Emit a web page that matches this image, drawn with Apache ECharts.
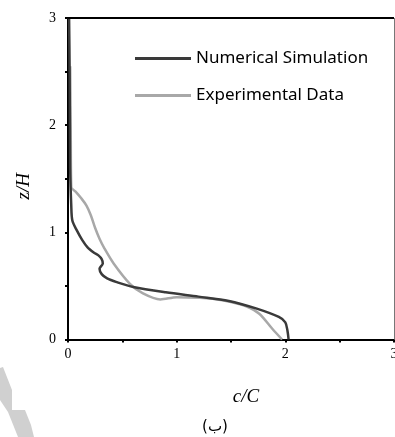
<!DOCTYPE html>
<html>
<head>
<meta charset="utf-8">
<script src="https://cdn.jsdelivr.net/npm/echarts@6/dist/echarts.min.js"></script>
<style>
html,body{margin:0;padding:0;background:#fff;}
#chart{width:395px;height:437px;}
</style>
</head>
<body>
<div id="chart"></div>
<script>
var seriesNames = ['Numerical Simulation', 'Experimental Data'];
var numC = [0.01, 0.015, 0.02, 0.03, 0.04, 0.08, 0.13, 0.18, 0.24, 0.28, 0.31, 0.32, 0.29, 0.31, 0.36, 0.45, 0.6, 0.9, 1.2, 1.48, 1.73, 1.94, 2.0, 2.02, 2.03];
var numZ = [3.0, 2.5, 1.6, 1.25, 1.11, 1.02, 0.93, 0.86, 0.81, 0.785, 0.75, 0.71, 0.66, 0.61, 0.57, 0.535, 0.49, 0.44, 0.40, 0.36, 0.29, 0.21, 0.16, 0.08, 0.0];
var expC = [0.02, 0.025, 0.03, 0.07, 0.12, 0.17, 0.21, 0.25, 0.29, 0.33, 0.42, 0.57, 0.69, 0.85, 1.0, 1.21, 1.33, 1.5, 1.64, 1.76, 1.88, 1.97];
var expZ = [2.55, 2.0, 1.42, 1.38, 1.32, 1.25, 1.16, 1.04, 0.94, 0.86, 0.71, 0.52, 0.43, 0.374, 0.395, 0.39, 0.38, 0.35, 0.31, 0.24, 0.10, 0.0];
var xTicks = [0, 1, 2, 3];
var yTicks = [0, 1, 2, 3];
var xRange = [0, 3];
var yRange = [0, 3];
var xTitle = 'c/C';
var yTitle = 'z/H';
var caption = '(ب)';

function pairs(a, b) { return a.map(function (v, i) { return [v, b[i]]; }); }
function intLabel(list) {
  return function (v) { return list.indexOf(v) >= 0 ? String(v) : ''; };
}

var chart = echarts.init(document.getElementById('chart'), null, { renderer: 'canvas' });
var tickLabelStyle = { fontFamily: 'Liberation Serif', fontSize: 14, color: '#000' };
chart.setOption({
  animation: false,
  backgroundColor: '#fff',
  grid: { left: 68, top: 18, width: 326, height: 321.5, containLabel: false, outerBoundsMode: 'none' },
  legend: {
    orient: 'vertical', left: 135, top: 50, padding: 0, itemWidth: 56, itemHeight: 3, itemGap: 20,
    icon: 'rect',
    textStyle: { fontFamily: 'Noto Sans', fontSize: 17, color: '#000' },
    data: seriesNames
  },
  xAxis: [{
    type: 'value', min: xRange[0], max: xRange[1], interval: 0.5,
    axisLine: { show: true, onZero: false, lineStyle: { color: '#000', width: 2 } },
    axisTick: { show: true, inside: false, length: 3, lineStyle: { color: '#000', width: 2 } },
    axisLabel: Object.assign({ formatter: intLabel(xTicks), margin: 8 }, tickLabelStyle),
    splitLine: { show: false }
  }],
  yAxis: [{
    type: 'value', min: yRange[0], max: yRange[1], interval: 0.5,
    axisLine: { show: true, onZero: false, lineStyle: { color: '#000', width: 2 } },
    axisTick: { show: true, inside: false, length: 3, lineStyle: { color: '#000', width: 2 } },
    axisLabel: Object.assign({ formatter: intLabel(yTicks), margin: 12 }, tickLabelStyle),
    splitLine: { show: false }
  }],
  series: [{
    name: seriesNames[0], type: 'line', data: pairs(numC, numZ), smooth: 0.3,
    showSymbol: false, symbol: 'none',
    lineStyle: { color: '#3a3a3a', width: 2.5 }, itemStyle: { color: '#3a3a3a' }, z: 3,
    markLine: {
      silent: true, symbol: ['none', 'none'], label: { show: false },
      data: [
        [{ coord: [xRange[0], yRange[1]], lineStyle: { color: '#000', width: 2, type: 'solid' } },
         { coord: [xRange[1], yRange[1]] }],
        [{ coord: [xRange[1], yRange[0]], lineStyle: { color: '#777', width: 1, type: 'solid' } },
         { coord: [xRange[1], yRange[1]] }]
      ]
    }
  }, {
    name: seriesNames[1], type: 'line', data: pairs(expC, expZ), smooth: 0.3,
    showSymbol: false, symbol: 'none',
    lineStyle: { color: '#a8a8a8', width: 2.5 }, itemStyle: { color: '#a8a8a8' }, z: 2
  }],
  graphic: [
    { type: 'text', left: 14, top: 173, rotation: Math.PI / 2,
      style: { text: yTitle, font: 'italic 19px "Liberation Serif"', fill: '#000' } },
    { type: 'text', style: { x: 246, y: 397, text: xTitle, font: 'italic 19px "Liberation Serif"', fill: '#000', align: 'center', verticalAlign: 'middle' } },
    { type: 'text', style: { x: 215, y: 427, text: caption, font: '15px "DejaVu Sans"', fill: '#000', align: 'center', verticalAlign: 'middle' } },
    { type: 'polygon', silent: true, z: -1,
      shape: { points: [[0, 368], [3, 367], [12, 390], [12, 410], [25, 410], [31, 425], [34, 437], [18, 437], [8, 412], [0, 400]] },
      style: { fill: '#d0d0d0' } }
  ]
});
</script>
</body>
</html>
